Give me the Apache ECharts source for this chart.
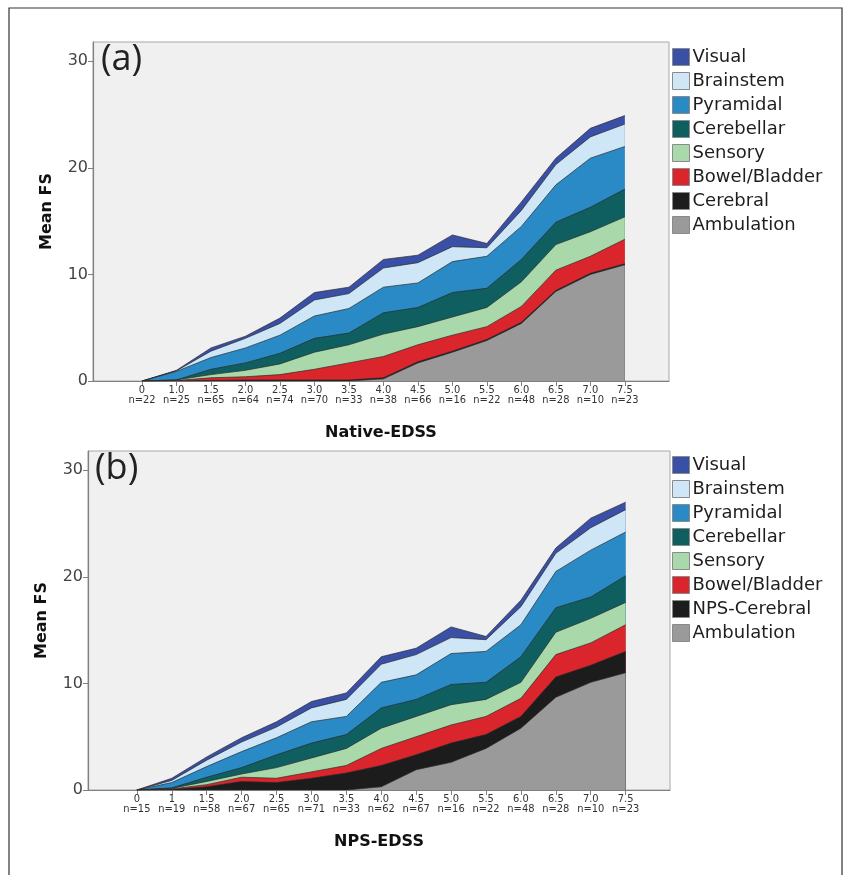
<!DOCTYPE html>
<html>
<head>
<meta charset="utf-8">
<script src="https://cdn.jsdelivr.net/npm/echarts@6/dist/echarts.min.js"></script>
<style>
  html, body { margin: 0; padding: 0; background: #fff; }
  #main { width: 845px; height: 875px; }
</style>
</head>
<body>
<div id="main"></div>
<script>
// EDSS steps and group sizes
const nativeLabels = ['0', '1.0', '1.5', '2.0', '2.5', '3.0', '3.5', '4.0', '4.5', '5.0', '5.5', '6.0', '6.5', '7.0', '7.5']
const nativeN = [22, 25, 65, 64, 74, 70, 33, 38, 66, 16, 22, 48, 28, 10, 23]
const npsLabels = ['0', '1', '1.5', '2.0', '2.5', '3.0', '3.5', '4.0', '4.5', '5.0', '5.5', '6.0', '6.5', '7.0', '7.5']
const npsN = [15, 19, 58, 67, 65, 71, 33, 62, 67, 16, 22, 48, 28, 10, 23]
const yTicks = [0, 10, 20, 30]

// (a) Native-EDSS, mean FS per functional system
const ambulationA = [0, 0, 0, 0, 0, 0, 0, 0.2, 1.7, 2.7, 3.8, 5.4, 8.4, 10.0, 10.9]
const cerebralA = [0, 0, 0.05, 0.1, 0.1, 0.1, 0.1, 0.1, 0.1, 0.1, 0.1, 0.1, 0.1, 0.1, 0.1]
const bowelA = [0, 0.05, 0.25, 0.3, 0.5, 1.0, 1.6, 2.0, 1.6, 1.5, 1.2, 1.5, 1.9, 1.6, 2.3]
const sensoryA = [0, 0.05, 0.3, 0.6, 1.0, 1.6, 1.7, 2.1, 1.7, 1.7, 1.8, 2.3, 2.4, 2.3, 2.1]
const cerebellarA = [0, 0, 0.5, 0.7, 1.0, 1.3, 1.1, 2.0, 1.8, 2.3, 1.8, 2.1, 2.1, 2.3, 2.6]
const pyramidalA = [0, 0.8, 1.1, 1.4, 1.7, 2.1, 2.3, 2.4, 2.3, 2.9, 3.0, 3.1, 3.5, 4.6, 4.0]
const brainstemA = [0, 0.05, 0.6, 0.9, 1.1, 1.5, 1.4, 1.8, 1.9, 1.4, 0.8, 1.5, 1.9, 2.0, 2.1]
const visualA = [0, 0.05, 0.3, 0.2, 0.5, 0.7, 0.6, 0.8, 0.7, 1.1, 0.4, 0.8, 0.6, 0.8, 0.8]

// (b) NPS-EDSS
const ambulationB = [0, 0, 0, 0, 0, 0, 0, 0.3, 1.9, 2.6, 3.9, 5.8, 8.7, 10.1, 11.0]
const npsCerebralB = [0, 0.05, 0.3, 0.8, 0.7, 1.1, 1.6, 2.0, 1.4, 1.8, 1.3, 1.1, 1.9, 1.6, 2.0]
const bowelB = [0, 0.05, 0.2, 0.4, 0.4, 0.6, 0.7, 1.6, 1.7, 1.7, 1.7, 1.7, 2.1, 2.1, 2.5]
const sensoryB = [0, 0.05, 0.3, 0.3, 1.0, 1.3, 1.6, 1.9, 1.9, 1.9, 1.6, 1.5, 2.1, 2.3, 2.1]
const cerebellarB = [0, 0.05, 0.4, 0.6, 1.2, 1.4, 1.3, 1.9, 1.6, 1.9, 1.6, 2.4, 2.3, 2.0, 2.5]
const pyramidalB = [0, 0.5, 1.0, 1.5, 1.6, 2.0, 1.7, 2.4, 2.3, 2.9, 2.9, 3.0, 3.4, 4.4, 4.1]
const brainstemB = [0, 0.2, 0.6, 0.9, 1.0, 1.3, 1.6, 1.7, 1.9, 1.5, 1.1, 1.7, 1.7, 2.1, 2.1]
const visualB = [0, 0.2, 0.3, 0.4, 0.5, 0.6, 0.6, 0.7, 0.6, 1.0, 0.3, 0.6, 0.5, 0.9, 0.7]

const colors = {
  Visual: '#3a4fa6',
  Brainstem: '#cfe6f7',
  Pyramidal: '#2a8ac6',
  Cerebellar: '#0f5e60',
  Sensory: '#a9d9ab',
  'Bowel/Bladder': '#d9252b',
  Cerebral: '#1c1c1c',
  'NPS-Cerebral': '#1c1c1c',
  Ambulation: '#9a9a9a'
}

// bottom -> top
const layersA = [
  ['Ambulation', ambulationA], ['Cerebral', cerebralA], ['Bowel/Bladder', bowelA], ['Sensory', sensoryA],
  ['Cerebellar', cerebellarA], ['Pyramidal', pyramidalA], ['Brainstem', brainstemA], ['Visual', visualA]
]
const layersB = [
  ['Ambulation', ambulationB], ['NPS-Cerebral', npsCerebralB], ['Bowel/Bladder', bowelB], ['Sensory', sensoryB],
  ['Cerebellar', cerebellarB], ['Pyramidal', pyramidalB], ['Brainstem', brainstemB], ['Visual', visualB]
]

const font = 'DejaVu Sans'
const idx = nativeLabels.map((d, i) => i)

// running totals so each area reaches the top of its layer;
// painted top layer first so lower layers cover it
function makeSeries (layers, gi) {
  let run = layers[0][1].map(() => 0)
  const out = layers.map(([name, vals]) => {
    run = run.map((r, i) => r + vals[i])
    return {
      name,
      type: 'line',
      xAxisIndex: gi,
      yAxisIndex: gi,
      symbol: 'none',
      color: colors[name],
      lineStyle: { color: '#2b2b2b', width: 0.7 },
      areaStyle: { color: colors[name], opacity: 1 },
      data: run.map((v, i) => [i, +v.toFixed(3)])
    }
  })
  return out.reverse()
}

function makeX (gi, labels, ns, name, min, max) {
  return {
    type: 'value',
    gridIndex: gi,
    min,
    max,
    name,
    nameLocation: 'middle',
    nameGap: 44,
    nameTextStyle: { fontFamily: font, fontWeight: 'bold', fontSize: 16, color: '#111' },
    splitLine: { show: false },
    axisLine: { onZero: false, lineStyle: { color: '#808080', width: 1.2 } },
    axisTick: { customValues: idx, length: 5, lineStyle: { color: '#808080' } },
    axisLabel: {
      customValues: idx,
      margin: 4,
      fontFamily: 'Liberation Sans Narrow, DejaVu Sans Condensed, sans-serif',
      fontSize: 11,
      lineHeight: 10,
      color: '#333',
      formatter: v => labels[v] + '\nn=' + ns[v]
    }
  }
}

function makeY (gi) {
  return {
    type: 'value',
    gridIndex: gi,
    min: 0,
    max: 31.8,
    name: 'Mean FS',
    nameLocation: 'middle',
    nameGap: 38,
    nameRotate: 90,
    nameTextStyle: { fontFamily: font, fontWeight: 'bold', fontSize: 16, color: '#111' },
    splitLine: { show: false },
    axisLine: { show: true, onZero: false, lineStyle: { color: '#808080', width: 1.2 } },
    axisTick: { show: true, customValues: yTicks, length: 5, lineStyle: { color: '#808080' } },
    axisLabel: { customValues: yTicks, margin: 5, fontFamily: font, fontSize: 16, color: '#444' }
  }
}

const legendStyle = {
  orient: 'vertical',
  left: 672,
  padding: 0,
  icon: 'rect',
  itemWidth: 17,
  itemHeight: 17,
  itemGap: 6,
  itemStyle: { borderColor: '#8a8a8a', borderWidth: 1 },
  textStyle: { fontFamily: font, fontSize: 18, color: '#1e1e1e', padding: [0, 0, 0, -2] }
}

const chart = echarts.init(document.getElementById('main'))
chart.setOption({
  backgroundColor: '#fff',
  animation: false,
  title: [
    { text: '(a)', left: 96, top: 37, textStyle: { fontFamily: 'Open Sans', fontSize: 36, fontWeight: 'normal', color: '#222' } },
    { text: '(b)', left: 90, top: 446, textStyle: { fontFamily: 'Open Sans', fontSize: 36, fontWeight: 'normal', color: '#222' } }
  ],
  graphic: [
    { type: 'rect', shape: { x: 9, y: 8, width: 833, height: 880 }, style: { fill: 'none', stroke: '#333', lineWidth: 1.2 }, silent: true }
  ],
  legend: [
    Object.assign({}, legendStyle, { top: 48, data: ['Visual', 'Brainstem', 'Pyramidal', 'Cerebellar', 'Sensory', 'Bowel/Bladder', 'Cerebral', 'Ambulation'] }),
    Object.assign({}, legendStyle, { top: 456, data: ['Visual', 'Brainstem', 'Pyramidal', 'Cerebellar', 'Sensory', 'Bowel/Bladder', 'NPS-Cerebral', 'Ambulation'] })
  ],
  grid: [
    { left: 93, top: 42, width: 576, height: 339, show: true, backgroundColor: '#f0f0f0', borderColor: '#a8a8a8', borderWidth: 1 },
    { left: 88, top: 451, width: 582, height: 339, show: true, backgroundColor: '#f0f0f0', borderColor: '#a8a8a8', borderWidth: 1 }
  ],
  xAxis: [
    makeX(0, nativeLabels, nativeN, 'Native-EDSS', -1.42, 15.28),
    makeX(1, npsLabels, npsN, 'NPS-EDSS', -1.40, 15.27)
  ],
  yAxis: [makeY(0), makeY(1)],
  series: makeSeries(layersA, 0).concat(makeSeries(layersB, 1))
})
</script>
</body>
</html>
